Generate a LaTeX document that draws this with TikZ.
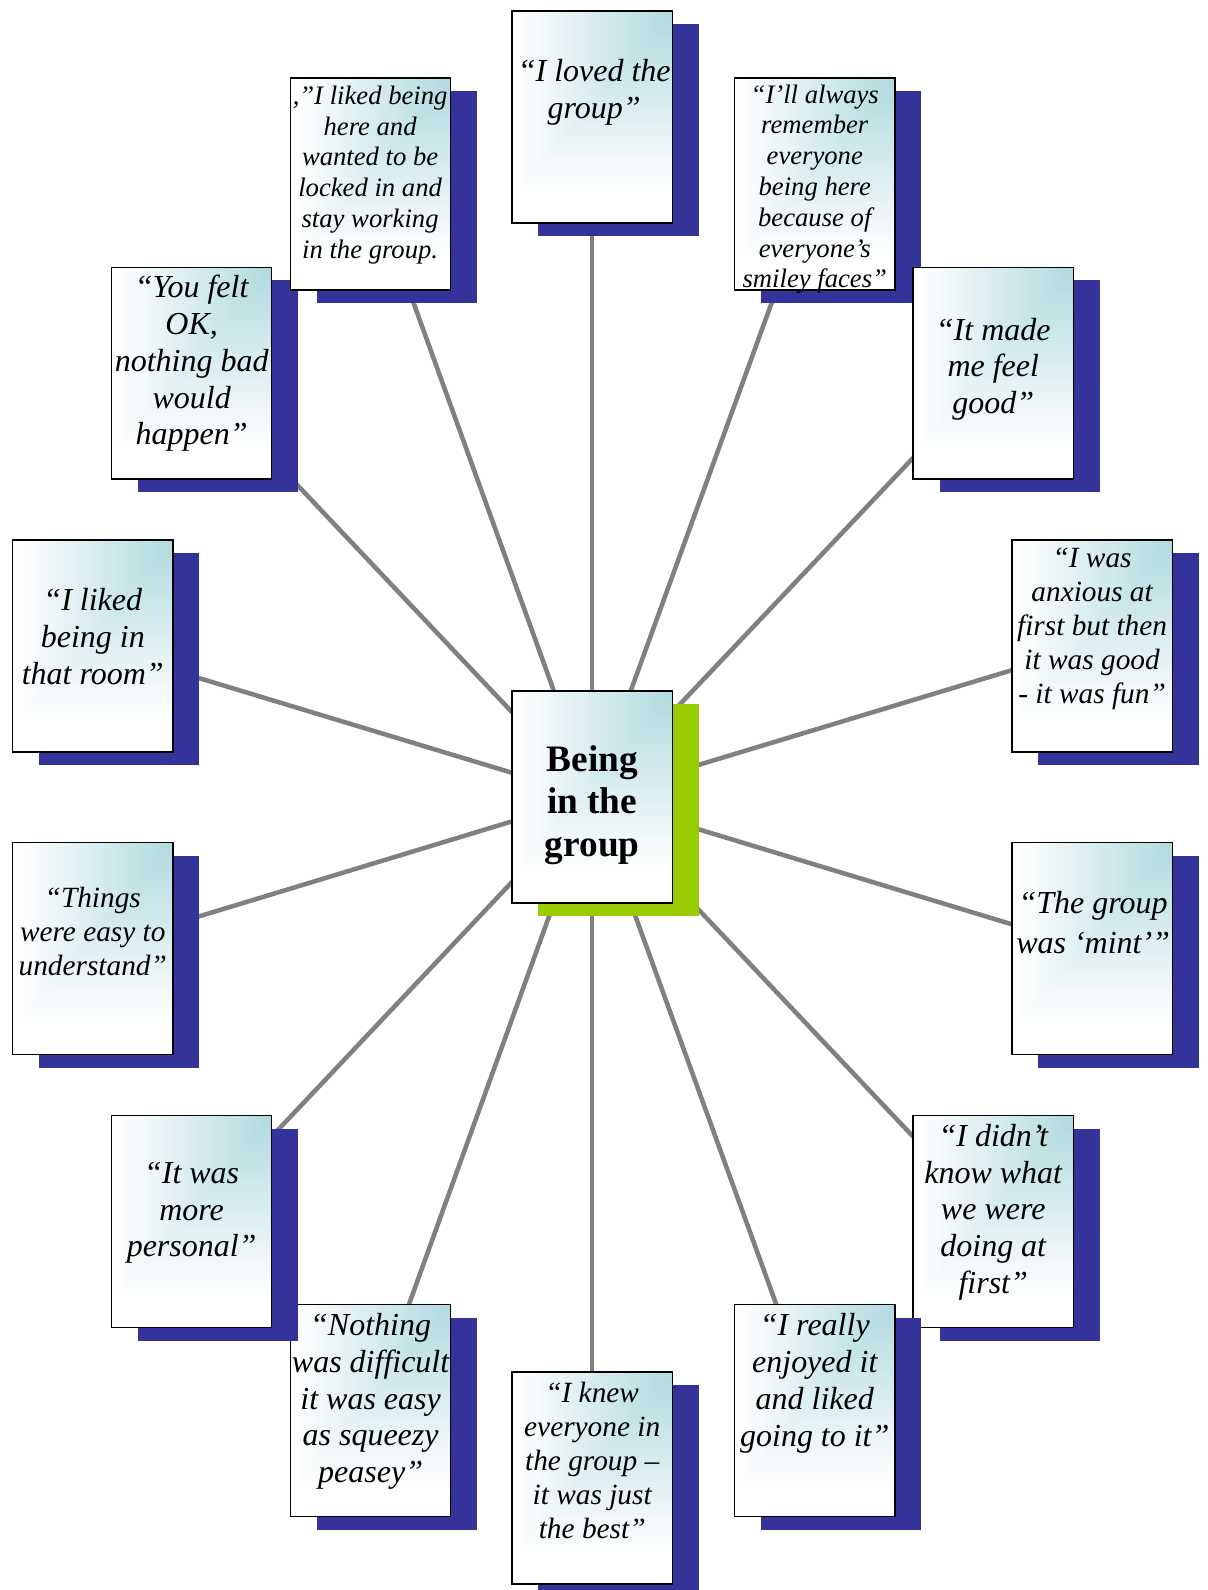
\documentclass[tikz,border=0pt]{standalone}
\usepackage{fontspec}
\setmainfont{Liberation Serif}
\usetikzlibrary{shadows}
\definecolor{shadowblue}{RGB}{51,51,153}
\definecolor{leafgreen}{RGB}{153,204,0}
\definecolor{linegray}{RGB}{128,128,128}
% teal (0.690,0.855,0.875) at the top-right corner, fading to white (rectangular contours)
\pgfdeclarefunctionalshading{cornerglow}{\pgfpointorigin}{\pgfpoint{100bp}{100bp}}{}{
  75 exch sub 50 div 0.85 div
  exch 75 exch sub 50 div 0.97 div
  2 copy sub abs add add 2 div
  dup 1 sub abs sub 1 add 2 div
  dup 0.310 mul 0.690 add exch
  dup 0.145 mul 0.855 add exch
  0.125 mul 0.875 add
}
\pgfdeclarelayer{background}
\pgfsetlayers{background,main}
\tikzset{
  boxbase/.style={draw=black, line width=1pt, minimum width=120.2pt, minimum height=159pt,
    inner sep=0pt, shade, shading=cornerglow},
  qbox/.style={boxbase, drop shadow={shadow xshift=19.8pt, shadow yshift=-9.9pt, fill=shadowblue, opacity=1}},
  cbox/.style={boxbase, drop shadow={shadow xshift=19.8pt, shadow yshift=-9.9pt, fill=leafgreen, opacity=1}},
  qtext/.style={align=center, inner sep=0pt, font=\itshape\fontsize{24}{27.6}\selectfont},
  qtextm/.style={align=center, inner sep=0pt, font=\itshape\fontsize{22}{25.5}\selectfont},
  qtexts/.style={align=center, inner sep=0pt, font=\itshape\fontsize{20}{23.1}\selectfont},
  ctext/.style={align=center, inner sep=0pt, font=\bfseries\fontsize{28}{32}\selectfont},
  conn/.style={draw=linegray, line width=3.4pt}
}
\begin{document}
\begin{tikzpicture}[x=0.7607pt, y=-0.7607pt]
\useasboundingbox (0,0) rectangle (1191,1568);
% boxes
\node[cbox] (c) at (584,786) {};
\node[qbox] (b1) at (584,115.5) {};
\node[qbox] (b2) at (803.5,181.5) {};
\node[qbox] (b3) at (979.5,368) {};
\node[qbox] (b4) at (1077,637) {};
\node[qbox] (b5) at (1077,935.5) {};
\node[qbox] (b6) at (979.5,1204.5) {};
\node[qbox] (b7) at (803.5,1391) {};
\node[qbox] (b8) at (584,1457.5) {};
\node[qbox] (b9) at (365.5,1391) {};
\node[qbox] (b10) at (189,1204.5) {};
\node[qbox] (b11) at (91.5,935.5) {};
\node[qbox] (b12) at (91.5,637) {};
\node[qbox] (b13) at (189,368) {};
\node[qbox] (b14) at (365.5,181.5) {};
% texts
\node[ctext] (tc) at (584,794) {Being\\in the\\group};
\node[qtext] (t1) at (586,91) {“I loved the\\group”};
\node[qtexts] (t2) at (803.5,186.5) {“I’ll always\\remember\\everyone\\being here\\because of\\everyone’s\\smiley faces”};
\node[qtext] (t3) at (979.5,364) {“It made\\me feel\\good”};
\node[qtextm] (t4) at (1077,620.5) {“I was\\anxious at\\first but then\\it was good\\- it was fun”};
\node[qtext, font=\itshape\fontsize{24}{29.7}\selectfont] (t5) at (1078,909.5) {“The group\\was ‘mint’”};
\node[qtext] (t6) at (979.5,1195.5) {“I didn’t\\know what\\we were\\doing at\\first”};
\node[qtext] (t7) at (803.5,1364) {“I really\\enjoyed it\\and liked\\going to it”};
\node[qtextm] (t8) at (584,1440.5) {“I knew\\everyone in\\the group –\\it was just\\the best”};
\node[qtext] (t9) at (365.5,1382) {“Nothing\\was difficult\\it was easy\\as squeezy\\peasey”};
\node[qtext] (t10) at (189,1196) {“It was\\more\\personal”};
\node[qtextm] (t11) at (91.5,918.5) {“Things\\were easy to\\understand”};
\node[qtext] (t12) at (91.5,627.5) {“I liked\\being in\\that room”};
\node[qtext] (t13) at (189,358.5) {“You felt\\OK,\\nothing bad\\would\\happen”};
\node[qtexts] (t14) at (365,172.5) {,”I liked being\\here and\\wanted to be\\locked in and\\stay working\\in the group.};
% connectors
\begin{pgfonlayer}{background}
\foreach \k in {1,...,14}{
  \draw[conn] (c.center) -- (b\k.center);
}
\end{pgfonlayer}
\end{tikzpicture}
\end{document}
